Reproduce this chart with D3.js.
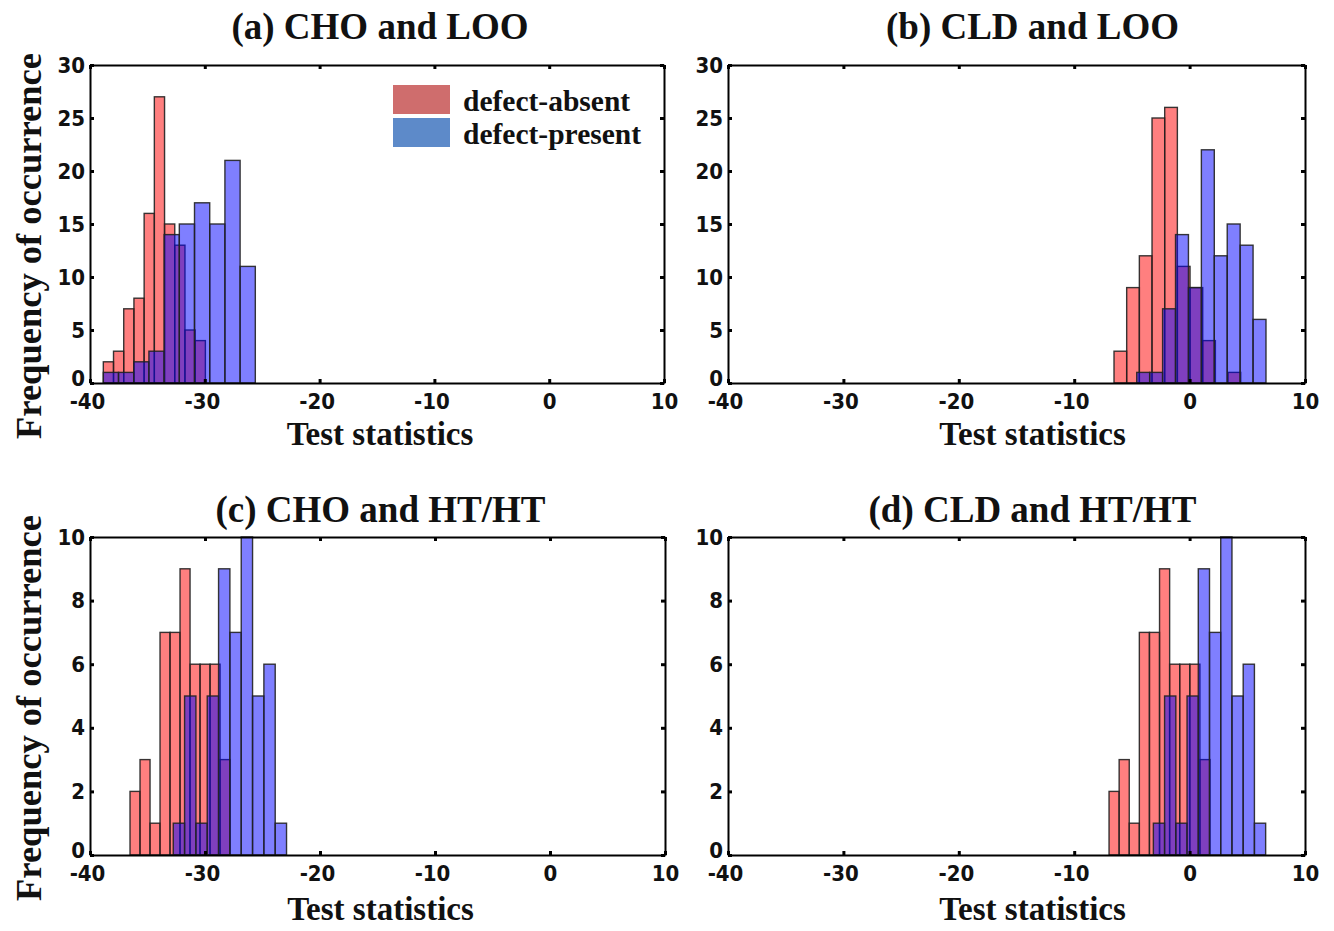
<!DOCTYPE html>
<html>
<head>
<meta charset="utf-8">
<script src="https://cdn.jsdelivr.net/npm/d3@7"></script>
<style>
  body { margin: 0; background: #fff; }
  .tick text { font-family: "Liberation Sans Narrow", "Arial Narrow", "DejaVu Sans Condensed", sans-serif; font-stretch: condensed; font-weight: bold; font-size: 22px; fill: #111; }
  .serif { font-family: "Liberation Serif", "Times New Roman", serif; font-weight: bold; fill: #111; }
</style>
</head>
<body>
<svg id="chart" width="1334" height="931"></svg>
<script>
// ---- data ----
const panelTitles = ['(a) CHO and LOO', '(b) CLD and LOO', '(c) CHO and HT/HT', '(d) CLD and HT/HT'];
const seriesNames = ['defect-absent', 'defect-present'];
const xTicks = [-40, -30, -20, -10, 0, 10];
const yTicksLoo = [0, 5, 10, 15, 20, 25, 30];
const yTicksHt = [0, 2, 4, 6, 8, 10];

// bin counts per panel (10 bins each)
const absentA = [2, 3, 7, 8, 16, 27, 15, 13, 5, 4];
const presentA = [1, 1, 2, 3, 14, 15, 17, 15, 21, 11];
const absentB = [3, 9, 12, 25, 26, 11, 9, 4, 0, 1];
const presentB = [1, 1, 7, 14, 9, 22, 12, 15, 13, 6];
const absentC = [2, 3, 1, 7, 7, 9, 6, 6, 6, 3];
const presentC = [1, 5, 1, 5, 9, 7, 10, 5, 6, 1];
const absentD = [2, 3, 1, 7, 7, 9, 6, 6, 6, 3];
const presentD = [1, 5, 1, 5, 9, 7, 10, 5, 6, 1];

// left edge of first bin and bin width (test statistic units)
const absentStart = [-38.84, -6.55, -36.52, -6.98];
const absentWidth = [0.889, 1.098, 0.87, 0.875];
const presentStart = [-38.84, -4.58, -32.76, -3.14];
const presentWidth = [1.324, 1.12, 0.985, 0.973];

const panels = [
  { absent: absentA, present: presentA, yMax: 30, yTicks: yTicksLoo },
  { absent: absentB, present: presentB, yMax: 30, yTicks: yTicksLoo },
  { absent: absentC, present: presentC, yMax: 10, yTicks: yTicksHt },
  { absent: absentD, present: presentD, yMax: 10, yTicks: yTicksHt },
];

// ---- layout ----
const boxes = [
  { left: 90, top: 65, width: 574, height: 318, titleDx: 3, titleY: -26, xLabelY: 62, yLabelDy: 22 },
  { left: 728, top: 65, width: 577, height: 318, titleDx: 16, titleY: -26, xLabelY: 62, yLabelDy: 22 },
  { left: 90, top: 537, width: 575, height: 318, titleDx: 3, titleY: -15, xLabelY: 65, yLabelDy: 12 },
  { left: 728, top: 537, width: 577, height: 318, titleDx: 16, titleY: -15, xLabelY: 65, yLabelDy: 12 },
];

const absentFill = '#ff0000';
const presentFill = '#0000ff';
const legendColors = ['#cf6d6d', '#5d8ac9'];

const svg = d3.select('#chart');

const drawPanel = (p, i) => {
  const box = boxes[i];
  const g = svg.append('g')
    .attr('transform', `translate(${box.left},${box.top})`);

  const xScale = d3.scaleLinear().domain([-40, 10]).range([0, box.width]);
  const yScale = d3.scaleLinear().domain([0, p.yMax]).range([box.height, 0]);

  const toBins = (counts, start, w) =>
    counts.map((c, k) => ({ x0: start + k * w, x1: start + (k + 1) * w, count: c }))
      .filter((d) => d.count > 0);

  const series = [
    { bins: toBins(p.absent, absentStart[i], absentWidth[i]), fill: absentFill },
    { bins: toBins(p.present, presentStart[i], presentWidth[i]), fill: presentFill },
  ];

  g.selectAll('.series')
    .data(series)
    .join('g')
    .attr('class', 'series')
    .attr('fill', (d) => d.fill)
    .attr('fill-opacity', 0.5)
    .selectAll('rect')
    .data((d) => d.bins)
    .join('rect')
    .attr('x', (d) => xScale(d.x0))
    .attr('width', (d) => xScale(d.x1) - xScale(d.x0))
    .attr('y', (d) => yScale(d.count))
    .attr('height', (d) => yScale(0) - yScale(d.count))
    .attr('stroke', '#222')
    .attr('stroke-opacity', 0.9)
    .attr('stroke-width', 1.4);

  // axes: ticks point inward on all four sides
  const styleAxis = (a) => {
    a.select('.domain').attr('stroke', '#000').attr('stroke-width', 2);
    a.selectAll('.tick line').attr('stroke', '#000').attr('stroke-width', 3);
  };
  const plain = (d) => String(d); // hyphen minus like the original

  g.append('g')
    .attr('transform', `translate(0,${box.height})`)
    .call(d3.axisBottom(xScale).tickValues(xTicks).tickFormat(plain)
      .tickSizeInner(-4).tickSizeOuter(0).tickPadding(10))
    .call(styleAxis)
    .selectAll('.tick text')
    .attr('dx', (d) => (d < 0 ? -3 : 0));

  g.append('g')
    .call(d3.axisTop(xScale).tickValues(xTicks).tickSizeInner(-4).tickSizeOuter(0).tickFormat(''))
    .call(styleAxis);

  g.append('g')
    .call(d3.axisLeft(yScale).tickValues(p.yTicks).tickFormat(plain)
      .tickSizeInner(-4).tickSizeOuter(0).tickPadding(5))
    .call(styleAxis)
    .selectAll('.tick text')
    .attr('dy', (d) => (d === 0 ? '0.1em' : '0.32em'));

  g.append('g')
    .attr('transform', `translate(${box.width},0)`)
    .call(d3.axisRight(yScale).tickValues(p.yTicks).tickSizeInner(-4).tickSizeOuter(0).tickFormat(''))
    .call(styleAxis);

  // title
  g.append('text')
    .attr('class', 'serif')
    .attr('x', box.width / 2 + box.titleDx)
    .attr('y', box.titleY)
    .attr('text-anchor', 'middle')
    .style('font-size', '37px')
    .text(panelTitles[i]);

  // x label
  g.append('text')
    .attr('class', 'serif')
    .attr('x', box.width / 2 + box.titleDx)
    .attr('y', box.height + box.xLabelY)
    .attr('text-anchor', 'middle')
    .style('font-size', '33px')
    .text('Test statistics');

  // y label on left column only
  if (i % 2 === 0) {
    g.append('text')
      .attr('class', 'serif')
      .attr('transform', `translate(${-90 + 28},${box.height / 2 + box.yLabelDy}) rotate(-90)`)
      .attr('text-anchor', 'middle')
      .attr('dy', '0.35em')
      .style('font-size', '36.5px')
      .text('Frequency of occurrence');
  }

  // legend in first panel
  if (i === 0) {
    const legend = g.append('g')
      .attr('transform', `translate(${393 - box.left},${85 - box.top})`);
    const item = legend.selectAll('.legend-item')
      .data(seriesNames)
      .join('g')
      .attr('class', 'legend-item')
      .attr('transform', (d, k) => `translate(0,${k * 33})`);
    item.append('rect')
      .attr('width', 57)
      .attr('height', 29)
      .attr('fill', (d, k) => legendColors[k]);
    item.append('text')
      .attr('class', 'serif')
      .attr('x', 70)
      .attr('y', 26)
      .style('font-size', '29.5px')
      .text((d) => d);
  }
};

panels.forEach(drawPanel);
</script>
</body>
</html>
